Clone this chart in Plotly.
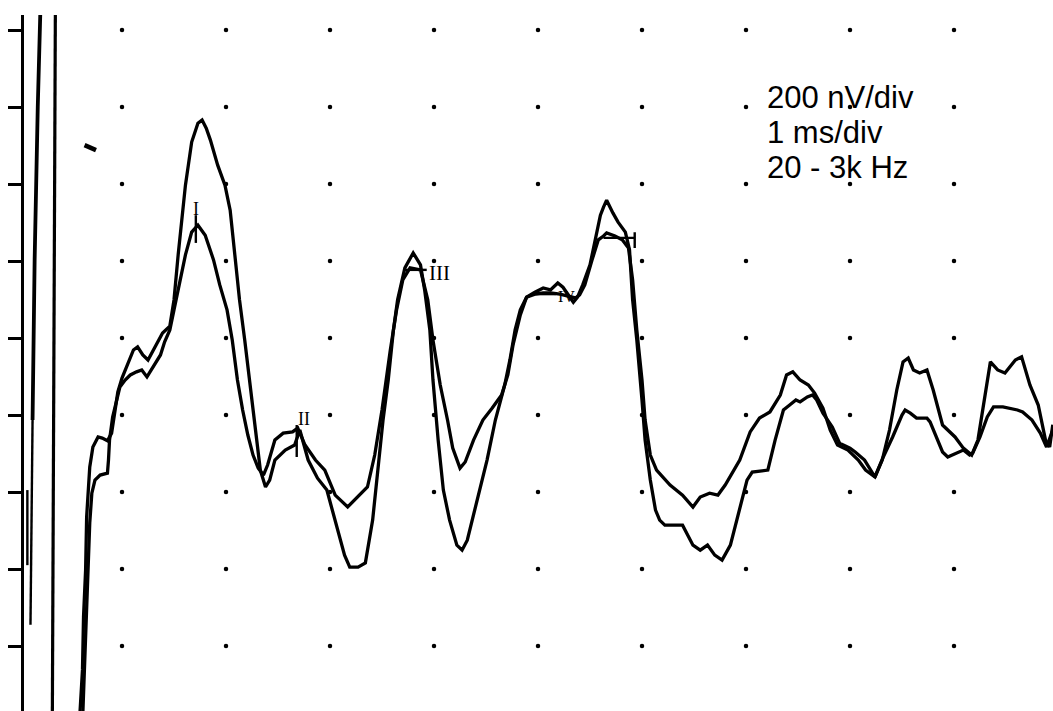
import plotly.graph_objects as go

# ---- Waveform A (larger amplitude recording): time in ms, amplitude in nV ----
A_T = [0.59,0.62,0.63,0.65,0.66,0.67,0.69,0.72,0.77,0.81,
       0.86,0.90,0.93,0.96,1.00,1.06,1.11,1.15,1.20,1.25,
       1.32,1.39,1.46,1.50,1.54,1.61,1.67,1.73,1.77,1.81,
       1.85,1.92,1.99,2.04,2.10,2.13,2.18,2.23,2.28,2.33,
       2.38,2.42,2.47,2.57,2.66,2.71,2.79,2.88,2.97,3.05,
       3.14,3.19,3.27,3.34,3.41,3.46,3.51,3.56,3.61,3.65,
       3.72,3.80,3.87,3.91,3.96,3.99,4.04,4.09,4.15,4.22,
       4.27,4.32,4.39,4.51,4.59,4.68,4.73,4.78,4.83,4.89,
       4.97,5.05,5.12,5.19,5.24,5.29,5.34,5.38,5.43,5.50,
       5.55,5.60,5.63,5.66,5.72,5.77,5.84,5.88,5.91,5.95,
       6.00,6.03,6.08,6.13,6.17,6.22,6.39,6.49,6.56,6.63,
       6.70,6.77,6.85,6.94,7.01,7.06,7.21,7.28,7.36,7.42,
       7.48,7.52,7.59,7.64,7.68,7.74,7.83,7.90,8.00,8.05,
       8.14,8.24,8.32,8.41,8.50,8.53,8.58,8.64,8.74,8.77,
       8.84,8.89,8.94,9.04,9.09,9.15,9.18,9.25,9.32,9.38,
       9.47,9.61,9.66,9.75,9.83,9.89,9.95]
A_V = [-1000,-862,-725,-603,-465,-413,-335,-283,-257,-260,
       -267,-247,-187,-140,-104,-62,-31,-23,-44,-57,
       -23,13,31,99,216,397,509,558,566,545,
       514,449,397,332,177,99,-5,-122,-239,-343,
       -387,-369,-317,-291,-278,-239,-317,-364,-395,-473,
       -564,-595,-595,-584,-473,-343,-213,-109,21,99,
       182,221,190,125,21,-109,-265,-395,-473,-538,
       -551,-525,-447,-317,-213,-122,-57,21,73,106,
       119,130,125,143,132,112,93,106,138,190,
       255,319,340,358,325,301,275,229,99,-5,
       -161,-265,-369,-447,-473,-486,-486,-538,-551,-538,
       -564,-577,-538,-447,-369,-348,-343,-265,-187,-174,
       -161,-166,-153,-148,-161,-195,-231,-273,-286,-296,
       -317,-361,-309,-257,-200,-187,-195,-208,-208,-218,
       -265,-296,-309,-296,-291,-304,-299,-257,-205,-179,
       -179,-187,-192,-213,-247,-283,-239]

# ---- Waveform B (labelled recording) ----
B_T = [0.62,0.64,0.66,0.67,0.69,0.71,0.74,0.79,0.86,0.87,
       0.88,0.91,0.95,0.98,1.03,1.08,1.14,1.19,1.24,1.30,
       1.37,1.41,1.46,1.50,1.54,1.61,1.67,1.73,1.80,1.88,
       1.94,2.01,2.06,2.11,2.16,2.21,2.26,2.31,2.36,2.40,
       2.47,2.55,2.64,2.69,2.76,2.86,2.95,3.05,3.17,3.27,
       3.36,3.43,3.50,3.58,3.64,3.70,3.77,3.87,3.94,3.99,
       4.06,4.13,4.18,4.25,4.30,4.38,4.47,4.56,4.65,4.71,
       4.76,4.83,4.89,4.97,5.05,5.12,5.21,5.29,5.36,5.40,
       5.45,5.52,5.58,5.63,5.66,5.74,5.81,5.87,5.91,5.95,
       6.00,6.03,6.08,6.14,6.27,6.39,6.49,6.56,6.65,6.73,
       6.80,6.94,7.04,7.13,7.23,7.33,7.39,7.45,7.52,7.60,
       7.66,7.74,7.81,7.88,7.98,8.08,8.15,8.24,8.31,8.38,
       8.45,8.51,8.56,8.61,8.67,8.74,8.80,8.89,9.01,9.09,
       9.17,9.23,9.30,9.35,9.42,9.49,9.59,9.65,9.73,9.81,
       9.88,9.92,9.95]
B_V = [-1000,-854,-725,-595,-480,-403,-369,-356,-351,-317,
       -265,-205,-161,-127,-109,-96,-88,-83,-101,-75,
       -44,-10,21,73,125,216,275,293,267,203,
       138,73,-5,-109,-187,-252,-304,-338,-356,-330,
       -265,-247,-244,-234,-278,-317,-343,-408,-439,-413,
       -387,-304,-187,-31,73,151,182,177,99,-5,
       -122,-213,-286,-338,-322,-265,-213,-182,-148,-96,
       -18,60,106,114,117,117,114,109,104,112,
       138,203,255,265,273,265,255,234,151,21,
       -109,-213,-304,-343,-382,-408,-439,-413,-403,-408,
       -382,-317,-244,-208,-192,-148,-96,-88,-109,-122,
       -143,-182,-239,-278,-291,-317,-343,-361,-317,-239,
       -135,-62,-52,-83,-91,-83,-135,-226,-257,-286,
       -304,-265,-148,-62,-83,-91,-57,-49,-122,-174,
       -265,-283,-225]

# ---- Stimulus artefact strokes at the left ----
ART1_T = [0.22, 0.19, 0.16, 0.14]
ART1_V = [900, 600, 203, -213]
ART2_T = [0.14, 0.13, 0.12]
ART2_V = [-213, -421, -745]
ART3_T = [0.36, 0.33]
ART3_V = [900, -1000]
ART4_T = [0.09, 0.09]
ART4_V = [-395, -590]
MARK_T = [0.64, 0.75]
MARK_V = [501, 488]

# ---- Grid of dots: 1 ms/div, 200 nV/div ----
GRID_T = [1, 2, 3, 4, 5, 6, 7, 8, 9]
GRID_V = [-800, -600, -400, -200, 0, 200, 400, 600, 800]

# ---- Peak cursors (wave I .. V) ----
CUR_I_T, CUR_I_V = [1.71, 1.71], [319, 247]
CUR_II_T, CUR_II_V = [2.68, 2.68], [-226, -309]
CUR_III_T, CUR_III_V = [3.72, 3.93], [177, 177]
CUR_IV_T, CUR_IV_V = [4.95, 5.17], [114, 114]
CUR_V_T, CUR_V_V = [5.63, 5.93, 5.93, 5.93], [260, 260, 275, 234]

LABELS = ["I", "II", "III", "IV"]
LABEL_T = [1.71, 2.75, 3.93, 5.27]
LABEL_V = [335, -210, 169, 109]
LABEL_ANCHOR = ["center", "center", "left", "center"]
LABEL_SIZE = [18, 18, 21, 16]

INFO = ["200 nV/div", "1 ms/div", "20 - 3k Hz"]
INFO_V = [626, 535, 444]
INFO_T = 7.18

fig = go.Figure()

def line(t, v, w=3.3):
    fig.add_trace(go.Scatter(x=t, y=v, mode="lines",
                             line=dict(color="black", width=w),
                             hoverinfo="skip", showlegend=False))

# grid dots
gx, gy = [], []
for t in GRID_T:
    for v in GRID_V:
        gx.append(t)
        gy.append(v)
fig.add_trace(go.Scatter(x=gx, y=gy, mode="markers",
                         marker=dict(color="black", size=4.5, symbol="circle"),
                         hoverinfo="skip", showlegend=False))

line(ART1_T, ART1_V, 3.8)
line(ART2_T, ART2_V, 2.4)
line(ART3_T, ART3_V, 3.2)
line(ART4_T, ART4_V, 2.4)
line(MARK_T, MARK_V, 4.5)

line(A_T, A_V)
line(B_T, B_V)

for t, v in [(CUR_I_T, CUR_I_V), (CUR_II_T, CUR_II_V), (CUR_III_T, CUR_III_V),
             (CUR_IV_T, CUR_IV_V), (CUR_V_T, CUR_V_V)]:
    line(t, v, 2.4)

for lab, t, v, anc, sz in zip(LABELS, LABEL_T, LABEL_V, LABEL_ANCHOR, LABEL_SIZE):
    fig.add_annotation(x=t, y=v, text=lab, showarrow=False, xanchor=anc,
                       yanchor="middle",
                       font=dict(family="Liberation Serif", size=sz, color="black"))

for txt, v in zip(INFO, INFO_V):
    fig.add_annotation(x=INFO_T, y=v, text=txt, showarrow=False, xanchor="left",
                       yanchor="middle",
                       font=dict(family="Liberation Sans", size=31, color="black"))

fig.update_layout(
    width=1053, height=711,
    margin=dict(l=24, r=0, t=15, b=0, pad=0),
    paper_bgcolor="white", plot_bgcolor="white",
    showlegend=False,
    xaxis=dict(range=[0.0577, 9.952], visible=False, fixedrange=True),
    yaxis=dict(range=[-968.8, 839.0], showgrid=False, zeroline=False,
               showticklabels=False, ticks="outside", ticklen=13, tickwidth=2.5,
               tickcolor="black", tickvals=GRID_V, showline=True,
               linecolor="black", linewidth=3, fixedrange=True),
)

# remove the browser's default 8 px page margin so the figure fills the window
fig.write_html(
    "out.html",
    config={"displayModeBar": False},
    post_script="document.body.style.margin='0';document.body.style.overflow='hidden';",
)
